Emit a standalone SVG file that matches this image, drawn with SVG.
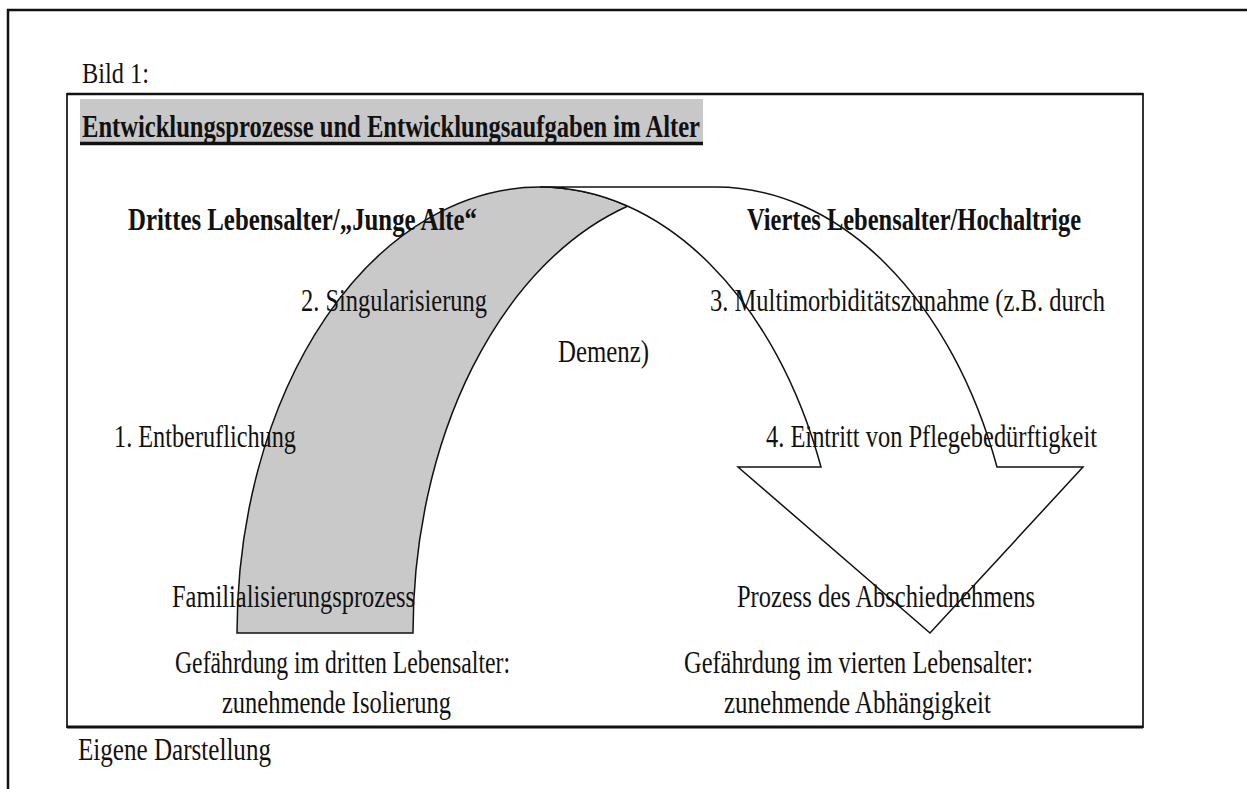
<svg xmlns="http://www.w3.org/2000/svg" width="1247" height="789" viewBox="0 0 1247 789">
<style>
text{font-family:"Liberation Serif","Times New Roman",serif;fill:#111;font-size:31px}
.b{font-weight:bold}
.frame{fill:none;stroke:#111;stroke-width:2.5}
.box{fill:none;stroke:#333;stroke-width:2}
.arc{stroke:#111;stroke-width:1.5;stroke-linejoin:miter}
</style>
<rect width="1247" height="789" fill="#fff"/>
<g id="page-frame">
<path class="frame" d="M8,789 L8,10 L1247,10"/>
</g>
<g id="caption-top"><text x="82" y="83" textLength="67" lengthAdjust="spacingAndGlyphs" style="font-size:29px">Bild 1:</text></g>
<g id="figure-box">
<rect class="box" x="67" y="94" width="1076" height="633"/>
<line x1="67" y1="94" x2="1143" y2="94" stroke="#111" stroke-width="2.5"/>
<line x1="67" y1="727" x2="1143" y2="727" stroke="#111" stroke-width="3"/>
</g>
<g id="title">
<rect x="80" y="99" width="623" height="46" fill="#c8c8c8"/>
<line x1="80" y1="143.5" x2="703" y2="143.5" stroke="#111" stroke-width="3.5"/>
<text class="b" x="82" y="137" textLength="618" lengthAdjust="spacingAndGlyphs">Entwicklungsprozesse und Entwicklungsaufgaben im Alter</text>
</g>
<g id="connectors">
<path id="arch-shade" class="arc" fill="#c9c9c9" d="M237,633 A303,446 0 0 1 540,187 A303,446 0 0 1 628,206 A303,446 0 0 0 413,633 Z"/>
<path id="arch-arrow" class="arc" fill="#fff" d="M540,187 L716,187 A303,446 0 0 1 997,467 L1083,467 L930,633 L738,467 L821,467 A303,446 0 0 0 540,187 Z"/>
</g>
<g id="third-age">
<text class="b" x="128" y="230" textLength="349" lengthAdjust="spacingAndGlyphs">Drittes Lebensalter/„Junge Alte“</text>
</g>
<g id="fourth-age">
<text class="b" x="747" y="230" textLength="334" lengthAdjust="spacingAndGlyphs">Viertes Lebensalter/Hochaltrige</text>
</g>
<g id="step-2"><text x="301" y="311" textLength="186" lengthAdjust="spacingAndGlyphs">2. Singularisierung</text></g>
<g id="step-3">
<text x="710" y="311" textLength="395" lengthAdjust="spacingAndGlyphs">3. Multimorbiditätszunahme (z.B. durch</text>
<text x="558" y="362" textLength="91" lengthAdjust="spacingAndGlyphs">Demenz)</text>
</g>
<g id="step-1"><text x="114" y="447" textLength="182" lengthAdjust="spacingAndGlyphs">1. Entberuflichung</text></g>
<g id="step-4"><text x="766" y="447" textLength="331" lengthAdjust="spacingAndGlyphs">4. Eintritt von Pflegebedürftigkeit</text></g>
<g id="familialisierung"><text x="172" y="607" textLength="243" lengthAdjust="spacingAndGlyphs">Familialisierungsprozess</text></g>
<g id="abschied"><text x="737" y="607" textLength="298" lengthAdjust="spacingAndGlyphs">Prozess des Abschiednehmens</text></g>
<g id="risk-third">
<text x="175" y="673" textLength="335" lengthAdjust="spacingAndGlyphs">Gefährdung im dritten Lebensalter:</text>
<text x="222" y="713" textLength="229" lengthAdjust="spacingAndGlyphs">zunehmende Isolierung</text>
</g>
<g id="risk-fourth">
<text x="684" y="673" textLength="349" lengthAdjust="spacingAndGlyphs">Gefährdung im vierten Lebensalter:</text>
<text x="724" y="713" textLength="267" lengthAdjust="spacingAndGlyphs">zunehmende Abhängigkeit</text>
</g>
<g id="source"><text x="78" y="760" textLength="193" lengthAdjust="spacingAndGlyphs">Eigene Darstellung</text></g>
</svg>
